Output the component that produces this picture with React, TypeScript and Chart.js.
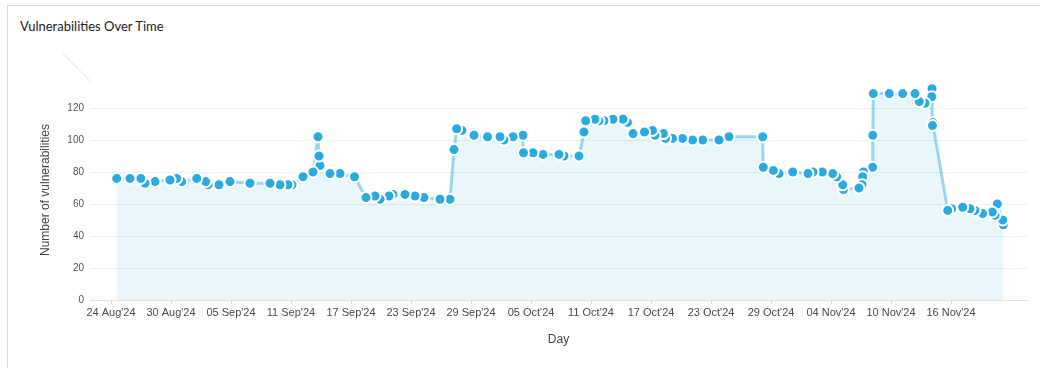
import React, { useEffect, useRef } from "react";
import { Chart, registerables } from "chart.js";

Chart.register(...registerables);

// Days since 24 Aug 2024 (fractional) for each observation
const dayOffsets: number[] = [
  0.57, 1.9, 2.97, 3.4, 4.4, 5.9, 6.57, 7.07, 8.57, 9.47,
  9.7, 10.8, 11.9, 13.9, 15.9, 16.9, 17.7, 18.1, 19.2, 20.2,
  20.7, 20.8, 20.9, 21.9, 22.9, 24.35, 25.5, 26.4, 26.9, 27.8,
  28.2, 29.4, 30.4, 31.3, 32.9, 33.9, 34.3, 34.57, 35.1, 36.3,
  37.65, 38.9, 39.3, 40.2, 41.2, 41.25, 42.2, 43.2, 44.8, 45.3,
  46.8, 47.3, 47.47, 48.4, 48.8, 49.3, 50.2, 51.2, 51.65, 52.2,
  53.35, 54.15, 54.4, 55.25, 55.45, 56.15, 57.15, 58.15, 59.17, 60.8,
  61.8, 65.17, 65.23, 66.23, 66.8, 68.17, 69.7, 70.2, 71.13, 72.17,
  72.57, 73.17, 73.25, 74.8, 75.1, 75.17, 75.25, 76.17, 76.18, 76.23,
  77.83, 79.17, 80.4, 80.83, 81.4, 82.07, 82.1, 82.15, 82.17, 83.67,
  84.07, 85.17, 85.9, 86.4, 87.17, 88.13, 88.4, 88.63, 89.17, 89.23,
];

const vulnerabilityCounts: number[] = [
  76, 76, 76, 73, 74, 75, 76, 74, 76, 74,
  72, 72, 74, 73, 73, 72, 72, 72, 77, 80,
  102, 90, 84, 79, 79, 77, 64, 65, 63, 65,
  66, 66, 65, 64, 63, 63, 94, 107, 106, 103,
  102, 102, 100, 102, 103, 92, 92, 91, 91, 90,
  90, 105, 112, 113, 112, 112, 113, 113, 111, 104,
  105, 106, 103, 104, 101, 101, 101, 100, 100, 100,
  102, 102, 83, 81, 79, 80, 79, 80, 80, 79,
  77, 72, 69, 70, 72, 77, 80, 83, 103, 129,
  129, 129, 129, 124, 123, 127, 132, 109, 111, 56,
  57, 58, 57, 56, 54, 55, 53, 60, 50, 47,
];

const tickDays: number[] = [0, 6, 12, 18, 24, 30, 36, 42, 48, 54, 60, 66, 72, 78, 84];
const tickLabels: string[] = [
  "24 Aug'24", "30 Aug'24", "05 Sep'24", "11 Sep'24", "17 Sep'24",
  "23 Sep'24", "29 Sep'24", "05 Oct'24", "11 Oct'24", "17 Oct'24",
  "23 Oct'24", "29 Oct'24", "04 Nov'24", "10 Nov'24", "16 Nov'24",
];
const yTicks: number[] = [0, 20, 40, 60, 80, 100, 120];

const FONT = "'Liberation Sans', Arial, sans-serif";

export default function App() {
  const canvasRef = useRef<HTMLCanvasElement | null>(null);

  useEffect(() => {
    if (!canvasRef.current) return;
    // reversed so that earlier points are painted on top of later ones
    const points = dayOffsets
      .map((d, i) => ({ x: d, y: vulnerabilityCounts[i] }))
      .reverse();
    const chart = new Chart(canvasRef.current, {
      type: "line",
      data: {
        datasets: [
          {
            label: "Vulnerabilities",
            data: points,
            borderColor: "rgba(41,171,226,0.45)",
            borderWidth: 3,
            backgroundColor: "rgba(41,171,226,0.1)",
            fill: "origin",
            tension: 0,
            pointRadius: 5.5,
            pointBorderWidth: 2,
            pointBackgroundColor: "#29abe2",
            pointBorderColor: "#ffffff",
          },
        ],
      },
      options: {
        responsive: false,
        animation: false,
        layout: { padding: { top: 40, right: 13, bottom: 8, left: 0 } },
        plugins: {
          legend: { display: false },
          tooltip: { enabled: false },
          title: { display: false },
        },
        scales: {
          x: {
            type: "linear",
            min: -2.1,
            max: 91.6,
            afterFit: (s: any) => {
              s.height = 60;
            },
            afterBuildTicks: (axis: any) => {
              axis.ticks = tickDays.map((v) => ({ value: v }));
            },
            ticks: {
              autoSkip: false,
              maxRotation: 0,
              padding: 2,
              color: "#4a4a4a",
              font: { family: FONT, size: 11 },
              callback: (v: any) => {
                const i = tickDays.indexOf(Number(v));
                return i >= 0 ? tickLabels[i] : "";
              },
            },
            grid: {
              display: true,
              drawOnChartArea: false,
              drawTicks: true,
              tickLength: 4,
              color: "#dddddd",
            },
            border: { display: true, color: "#e3e3e3" },
            title: {
              display: true,
              text: "Day",
              color: "#444",
              font: { family: FONT, size: 12 },
              padding: { top: 0, bottom: 13 },
            },
          },
          y: {
            type: "linear",
            min: 0,
            max: 137.5,
            afterFit: (s: any) => {
              s.width = 82;
            },
            afterBuildTicks: (axis: any) => {
              axis.ticks = yTicks.map((v) => ({ value: v }));
            },
            ticks: {
              padding: 6,
              color: "#555",
              font: { family: FONT, size: 10 },
            },
            grid: { color: "#efefef", drawTicks: false },
            border: { display: false },
            title: {
              display: true,
              text: "Number of vulnerabilities",
              color: "#444",
              font: { family: FONT, size: 12 },
              padding: { top: 30, bottom: 0 },
            },
          },
        },
      },
    });
    return () => chart.destroy();
  }, []);

  return (
    <div>
      <div
        style={{
          position: "absolute",
          left: 7,
          top: 5,
          width: 1033,
          height: 363,
          boxSizing: "border-box",
          borderTop: "1px solid #dcdcdc",
          borderLeft: "1px solid #dcdcdc",
          background: "#fff",
        }}
      />
      <div
        style={{
          position: "absolute",
          left: 20,
          top: 18,
          font: "13px Lato, sans-serif",
          lineHeight: "16px",
          color: "#222",
          whiteSpace: "nowrap",
        }}
      >
        Vulnerabilities Over Time
      </div>
      <div
        style={{
          position: "absolute",
          left: 62,
          top: 52,
          width: 42,
          height: 1,
          background: "#ececec",
          transformOrigin: "0 0",
          transform: "rotate(45deg)",
        }}
      />
      <div style={{ position: "absolute", left: 8, top: 40, width: 1032, height: 328 }}>
        <canvas ref={canvasRef} width={1032} height={328} style={{ display: "block" }} />
      </div>
    </div>
  );
}
